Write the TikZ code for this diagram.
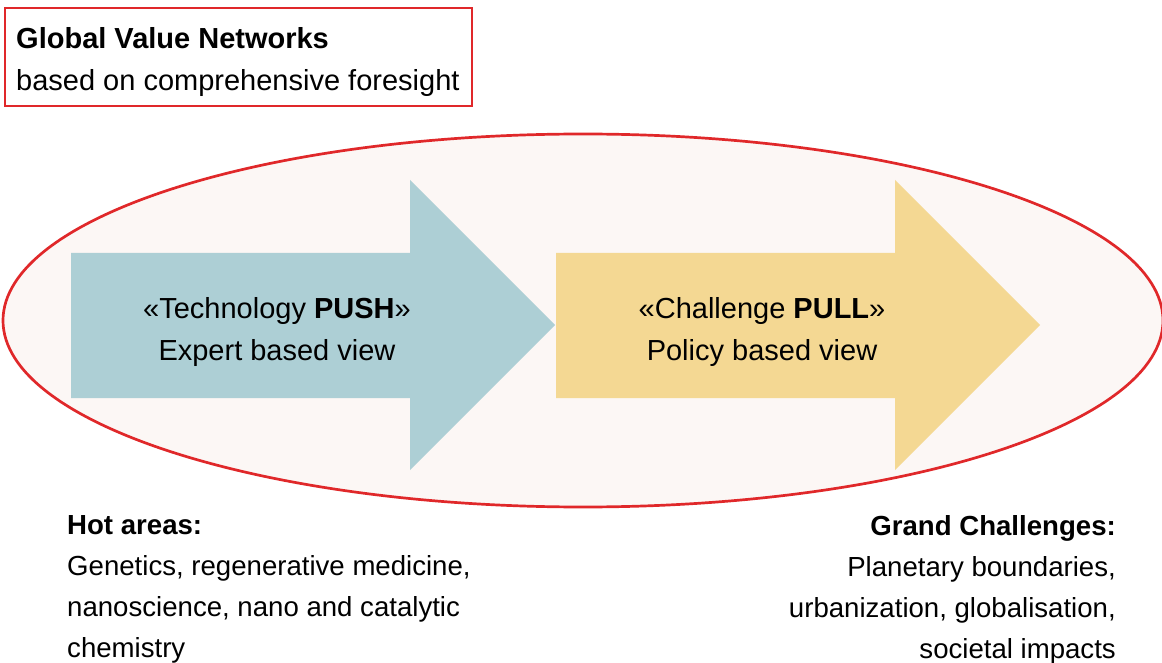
\documentclass[tikz,border=0pt]{standalone}
\usepackage{fontspec}
\setmainfont{Liberation Sans}

\definecolor{gvnred}{HTML}{E0282A}
\definecolor{ovalfill}{HTML}{FCF7F5}
\definecolor{pushblue}{HTML}{ADCFD5}
\definecolor{pullyellow}{HTML}{F4D893}

\begin{document}
\begin{tikzpicture}[x=1pt, y=-1pt,
  every node/.style = {inner sep=0pt, font=\fontsize{29}{42}\selectfont},
  arrowtext/.style = {anchor=north, align=center},
  sidetext/.style = {font=\fontsize{27.6}{41}\selectfont}]
  \useasboundingbox (0,0) rectangle (1162,663);

  % the big oval behind both arrows
  \draw[gvnred, line width=2.7pt, fill=ovalfill] (583,320.5) ellipse [x radius=580, y radius=186.5];

  % header box
  \draw[gvnred, line width=2pt] (5,8) rectangle (472,106);
  \node[anchor=north west, align=left] (gvn) at (16,27)
    {\textbf{Global Value Networks}\\based on comprehensive foresight};

  % push and pull arrows
  \fill[pushblue] (71,253) -- (410,253) -- (410,180) -- (555,325)
    -- (410,470) -- (410,398) -- (71,398) -- cycle;
  \fill[pullyellow] (556,253) -- (895,253) -- (895,180) -- (1040,325)
    -- (895,470) -- (895,398) -- (556,398) -- cycle;

  \node[arrowtext] (push) at (277,297) {«Technology \textbf{PUSH}»\\Expert based view};
  \node[arrowtext] (pull) at (762,297) {«Challenge \textbf{PULL}»\\Policy based view};

  % notes under the oval
  \node[sidetext, anchor=north west, align=left] (hot) at (67,515)
    {\textbf{Hot areas:}\\Genetics, regenerative medicine,\\nanoscience, nano and catalytic\\chemistry};
  \node[sidetext, anchor=north east, align=right] (grand) at (1116,515)
    {\textbf{Grand Challenges:}\\Planetary boundaries,\\urbanization, globalisation,\\societal impacts};
\end{tikzpicture}
\end{document}
